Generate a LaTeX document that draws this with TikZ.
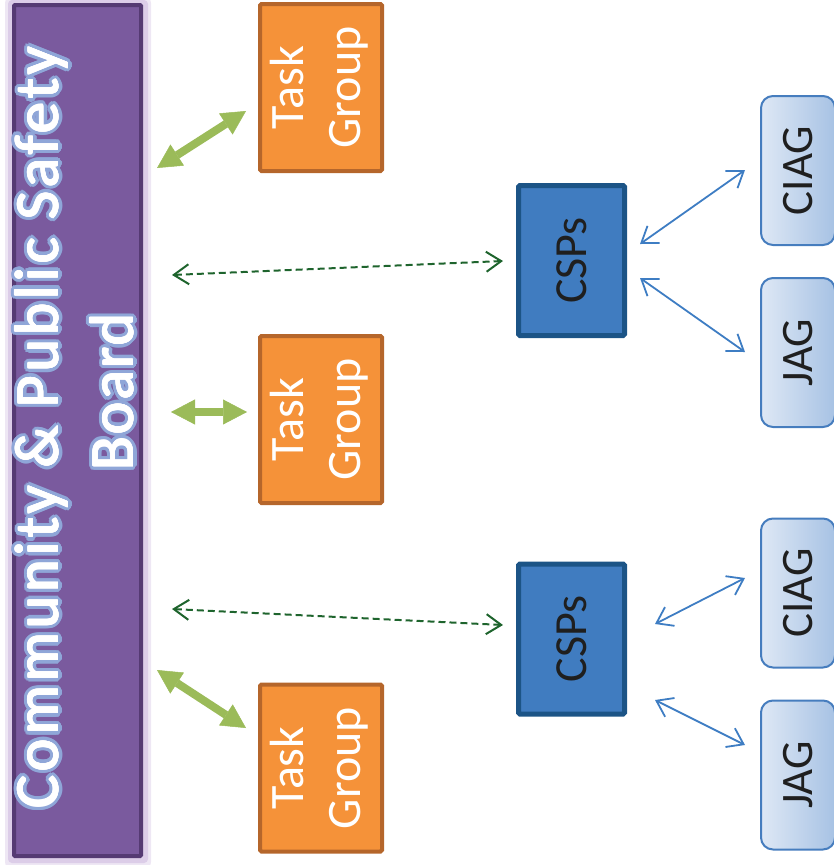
\documentclass[tikz,border=0pt]{standalone}
\usepackage{fontspec}
\setmainfont{Carlito}
\newfontfamily\boardfont[LetterSpace=6]{Carlito}
\newfontfamily\boardfontb[LetterSpace=3]{Carlito}
\usetikzlibrary{arrows.meta}
\definecolor{purp}{HTML}{7A5A9E}
\definecolor{purpd}{HTML}{553A73}
\definecolor{glowa}{HTML}{EEE7F4}
\definecolor{glowb}{HTML}{DCCDE8}
\definecolor{outl}{HTML}{8FA6D8}
\definecolor{orng}{HTML}{F59239}
\definecolor{orngd}{HTML}{B5662B}
\definecolor{cspf}{HTML}{407CC0}
\definecolor{cspd}{HTML}{1C5486}
\definecolor{agl}{HTML}{DEE8F5}
\definecolor{agr}{HTML}{A7C2E4}
\definecolor{agd}{HTML}{467DBE}
\definecolor{grn}{HTML}{9BBB59}
\definecolor{dgrn}{HTML}{1E642D}
\definecolor{blu}{HTML}{3E7DC3}
\definecolor{txt}{HTML}{1F1F1F}
\begin{document}
\begin{tikzpicture}[x=1pt,y=-1pt,
  boardbox/.style={draw=purpd, fill=purp, line width=4pt, minimum width=127pt, minimum height=851pt, inner sep=0pt, rounded corners=1pt},
  bline/.style={rotate=90, anchor=base, font=\boardfont\fontsize{62}{70}\selectfont, inner sep=0pt},
  blineb/.style={rotate=90, anchor=base, font=\boardfontb\fontsize{62}{70}\selectfont, inner sep=0pt},
  taskbox/.style={draw=orngd, fill=orng, line width=4pt, minimum width=122pt, minimum height=167pt, inner sep=0pt, rounded corners=1.5pt, text=white, font=\fontsize{48}{57}\selectfont},
  cspbox/.style={draw=cspd, fill=cspf, line width=5pt, minimum width=106pt, minimum height=150pt, inner sep=0pt, rounded corners=1.5pt, text=txt, font=\fontsize{46}{57}\selectfont},
  agbox/.style={draw=agd, left color=agl, right color=agr, line width=2pt, minimum width=74pt, minimum height=149pt, inner sep=0pt, rounded corners=12pt, text=txt, font=\fontsize{45}{55}\selectfont},
  garrow/.style={draw=grn, line width=8pt, >={Triangle[length=24pt,width=25pt,line width=0.5pt]}, <->, fill=grn},
  darrow/.style={draw=dgrn, line width=2pt, dash pattern=on 7pt off 4pt, >={Straight Barb[length=15pt,width=20pt]}, <->},
  barrow/.style={draw=blu, line width=1.8pt, >={Straight Barb[length=15pt,width=21pt]}, <->}
]
\useasboundingbox (0,0) rectangle (834,865);
% glow behind the board
\fill[glowa, rounded corners=6pt] (5,-3) rectangle (151,868);
\fill[glowb, rounded corners=4pt] (8,0) rectangle (148,863);
\node[boardbox] (board) at (77.5,430.5) {};
% board text with outline
\foreach \a in {0,22.5,...,337.5}{
  \node[bline, text=outl] at ([shift={(\a:4)}]58,427.5) {Community \& Public Safety};
  \node[blineb, text=outl] at ([shift={(\a:4)}]133,392) {Board};
}
\foreach \a in {0,45,...,315}{
  \node[bline, text=white] at ([shift={(\a:0.6)}]58,427.5) {Community \& Public Safety};
  \node[blineb, text=white] at ([shift={(\a:0.6)}]133,392) {Board};
}
\node[bline, text=white] (boardl1) at (58,427.5) {Community \& Public Safety};
\node[blineb, text=white] (boardl2) at (133,392) {Board};

% task groups
\node[taskbox] (tg1) at (321,87.5) {\rotatebox{90}{\begin{tabular}{@{}c@{}}Task\\Group\end{tabular}}};
\node[taskbox] (tg2) at (321,419.5) {\rotatebox{90}{\begin{tabular}{@{}c@{}}Task\\Group\end{tabular}}};
\node[taskbox] (tg3) at (321,768) {\rotatebox{90}{\begin{tabular}{@{}c@{}}Task\\Group\end{tabular}}};

% CSPs
\node[cspbox] (csp1) at (571.5,260.5) {\rotatebox{90}{CSPs}};
\node[cspbox] (csp2) at (571.5,639) {\rotatebox{90}{CSPs}};

% CIAG / JAG
\node[agbox] (ciag1) at (798,170.5) {\rotatebox{90}{CIAG}};
\node[agbox] (jag1) at (798,352.5) {\rotatebox{90}{JAG}};
\node[agbox] (ciag2) at (798,593) {\rotatebox{90}{CIAG}};
\node[agbox] (jag2) at (798,775) {\rotatebox{90}{JAG}};

% connector ends
\coordinate (b1) at (157,168);  \coordinate (t1) at (246,111);
\coordinate (b2) at (171,412);  \coordinate (t2) at (247,412);
\coordinate (b3) at (157,670);  \coordinate (t3) at (246,728);
\coordinate (bd1) at (172,275); \coordinate (c1l) at (503,261);
\coordinate (bd2) at (172,609); \coordinate (c2l) at (503,625);
\coordinate (c1a) at (640,244); \coordinate (ci1) at (745,170);
\coordinate (c1b) at (640,278); \coordinate (ja1) at (745,352);
\coordinate (c2a) at (655,624); \coordinate (ci2) at (745,578);
\coordinate (c2b) at (655,700); \coordinate (ja2) at (745,745);

\draw[garrow] (b1) -- (t1);
\draw[garrow] (b2) -- (t2);
\draw[garrow] (b3) -- (t3);
\draw[darrow] (bd1) -- (c1l);
\draw[darrow] (bd2) -- (c2l);
\draw[barrow] (c1a) -- (ci1);
\draw[barrow] (c1b) -- (ja1);
\draw[barrow] (c2a) -- (ci2);
\draw[barrow] (c2b) -- (ja2);
\end{tikzpicture}
\end{document}
